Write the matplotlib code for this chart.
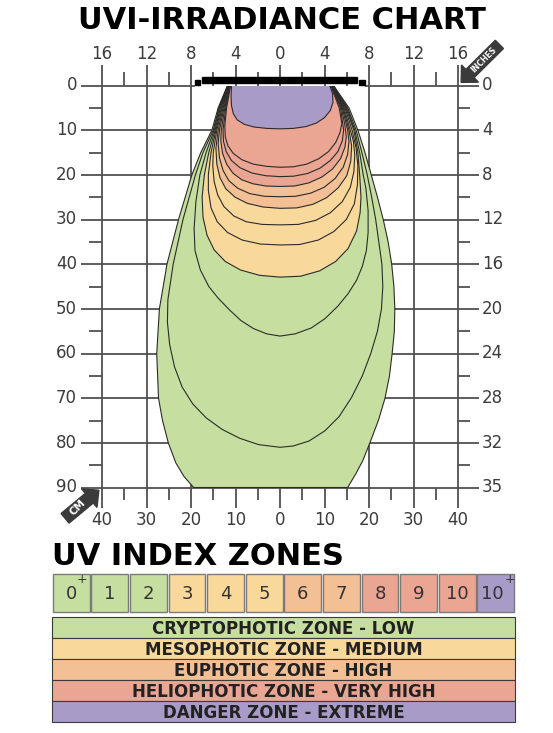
import matplotlib.pyplot as plt
from matplotlib.patches import Rectangle, FancyArrow

# ejes del grafico (cm abajo/izquierda, pulgadas arriba/derecha)
cm_x = [-40, -30, -20, -10, 0, 10, 20, 30, 40]
cm_x_labels = ['40', '30', '20', '10', '0', '10', '20', '30', '40']
in_top_labels = ['16', '12', '8', '4', '0', '4', '8', '12', '16']
cm_y = [0, 10, 20, 30, 40, 50, 60, 70, 80, 90]
cm_y_labels = ['0', '10', '20', '30', '40', '50', '60', '70', '80', '90']
in_right_labels = ['0', '4', '8', '12', '16', '20', '24', '28', '32', '35']
minor_x = [-35, -25, -15, -5, 5, 15, 25, 35]
minor_y = [5, 15, 25, 35, 45, 55, 65, 75, 85]

# contornos UVI (x cm, profundidad cm)
outline = [(-11.8, 0), (-13.9, 5), (-15.3, 10), (-17.8, 15), (-19.8, 20), (-22.8, 30), (-25.4, 40),
           (-27.1, 50), (-27.7, 60), (-27.3, 70), (-26.4, 75), (-25.1, 80), (-23.4, 84.5), (-21.6, 87.5),
           (-19.4, 90), (15.2, 90), (17.0, 87), (18.6, 84), (20.2, 80), (22.1, 75), (23.6, 70), (24.6, 65),
           (25.2, 60), (25.7, 55), (25.8, 50), (25.6, 45), (25.1, 40), (24.3, 35), (23.2, 30), (21.9, 25),
           (20.5, 20), (19.1, 15), (17.5, 10), (15.5, 5), (12.0, 0)]
line_1 = [(-11.75, 0), (-13.7, 5), (-15.0, 10), (-17.3, 15), (-19.0, 20), (-21.8, 30), (-24.0, 40),
          (-25.2, 48), (-25.3, 53), (-24.8, 58), (-23.7, 63), (-22.0, 67.5), (-19.6, 71.3), (-16.6, 74.4),
          (-13.0, 77.0), (-9.0, 79.0), (-4.8, 80.4), (0, 81), (3.0, 80.7), (6.5, 79.6), (10.1, 77.3),
          (13.3, 74.1), (16.1, 69.8), (18.5, 65.0), (20.4, 60), (21.9, 55), (22.8, 50), (23.1, 45),
          (22.9, 40), (21.5, 30), (20.6, 25), (19.6, 20), (18.4, 15), (17.1, 10), (15.2, 5), (12.0, 0)]
line_2 = [(-11.7, 0), (-13.6, 5), (-14.8, 10), (-16.6, 15), (-18.0, 20), (-18.9, 26), (-19.3, 32),
          (-19.1, 37), (-17.9, 41.3), (-16.0, 45), (-13.9, 47.6), (-11.4, 50.2), (-8.8, 52.6), (-6.0, 54.4),
          (-3.0, 55.6), (0, 56.1), (3.4, 55.6), (7.0, 54.3), (10.1, 52.2), (13.0, 49.4), (15.3, 46.6),
          (17.2, 43.6), (18.5, 40.5), (19.4, 37), (19.8, 33), (19.8, 28), (19.3, 23), (18.7, 20),
          (17.9, 15), (16.8, 10), (15.0, 5), (12.0, 0)]
line_3 = [(-11.65, 0), (-13.4, 5), (-14.6, 10), (-16.0, 15), (-17.0, 20), (-17.5, 25), (-17.3, 29.5),
          (-16.4, 33.5), (-14.8, 36.8), (-12.3, 39.4), (-8.9, 41.3), (-4.6, 42.5), (0, 42.9), (4.6, 42.7),
          (8.9, 41.5), (12.5, 39.4), (15.3, 36.5), (17.2, 32.6), (18.0, 28.5), (18.2, 25.0), (17.9, 20),
          (17.5, 15), (16.6, 10), (14.8, 5), (11.9, 0)]
line_4 = [(-11.6, 0), (-13.2, 5), (-14.4, 10), (-15.5, 15), (-16.1, 20), (-16.1, 23.5), (-15.5, 27.4),
          (-14.1, 30.5), (-11.8, 32.9), (-8.5, 34.6), (-4.4, 35.5), (0, 35.7), (4.4, 35.6), (8.6, 34.6),
          (12.1, 32.7), (14.9, 30.0), (16.7, 26.5), (17.4, 22.3), (17.5, 18.0), (17.1, 14), (16.2, 10),
          (14.6, 5), (11.9, 0)]
line_5 = [(-11.55, 0), (-13.0, 5), (-14.2, 10), (-15.0, 15), (-15.1, 18), (-14.8, 21.5), (-14.0, 24.5),
          (-12.6, 27.1), (-10.4, 29.2), (-7.6, 30.5), (-4.0, 31.1), (0, 31.2), (4.1, 31.1), (8.0, 30.2),
          (11.3, 28.5), (14.0, 26.0), (15.8, 22.8), (16.6, 19.3), (16.8, 15.5), (16.5, 12.5), (15.8, 10),
          (14.4, 5), (11.8, 0)]
line_6 = [(-11.5, 0), (-12.8, 5), (-13.9, 10), (-14.4, 14), (-14.2, 17.6), (-13.5, 20.6), (-12.2, 23.1),
          (-10.1, 25.0), (-7.3, 26.4), (-3.8, 27.2), (0, 27.5), (3.8, 27.4), (7.4, 26.6), (10.5, 25.1),
          (13.1, 22.9), (15.0, 20.2), (15.9, 17.0), (16.1, 13.5), (15.5, 10), (14.2, 5), (11.8, 0)]
line_7 = [(-11.4, 0), (-12.6, 5), (-13.6, 10), (-13.9, 13), (-13.6, 16.2), (-12.8, 19), (-11.5, 21.3),
          (-9.5, 23.0), (-6.8, 24.2), (-3.5, 24.8), (0, 24.9), (3.5, 24.8), (6.9, 24.1), (9.9, 22.8),
          (12.4, 20.8), (14.2, 18.3), (15.2, 15.4), (15.5, 12.5), (15.2, 10), (14.0, 5), (11.7, 0)]
line_8 = [(-11.3, 0), (-12.4, 5), (-13.2, 10), (-13.3, 12.5), (-12.9, 15.2), (-12.0, 17.6), (-10.6, 19.6),
          (-8.6, 21.1), (-6.1, 22.0), (-3.2, 22.5), (0, 22.6), (3.3, 22.5), (6.5, 21.8), (9.4, 20.5),
          (11.8, 18.7), (13.6, 16.4), (14.6, 13.8), (14.9, 11.5), (14.6, 9), (13.8, 5), (11.6, 0)]
line_9 = [(-11.2, 0), (-12.2, 5), (-12.8, 10), (-12.7, 12.5), (-12.1, 14.8), (-10.9, 16.8), (-9.0, 18.4),
          (-6.3, 19.6), (-3.2, 20.2), (0, 20.4), (3.1, 20.3), (6.2, 19.7), (9.0, 18.5), (11.3, 16.8),
          (13.0, 14.8), (14.0, 12.4), (14.3, 10), (13.6, 5), (11.5, 0)]
line_10 = [(-11.1, 0), (-12.0, 5), (-12.4, 9), (-12.3, 11.5), (-11.7, 13.5), (-10.5, 15.2), (-8.6, 16.6),
           (-6.0, 17.6), (-3.0, 18.1), (0, 18.3), (3.0, 18.2), (6.0, 17.6), (8.7, 16.4), (10.9, 14.8),
           (12.5, 12.8), (13.5, 10.5), (13.9, 8.5), (13.3, 5), (11.4, 0)]
line_10plus = [(-10.9, 0), (-11.0, 2.5), (-10.9, 4.5), (-10.5, 6.3), (-9.6, 7.7), (-8.0, 8.7), (-5.8, 9.3),
               (-3.0, 9.6), (0, 9.7), (3.0, 9.6), (5.8, 9.2), (8.2, 8.4), (10.0, 7.2), (11.3, 5.6),
               (11.9, 3.8), (11.8, 1.8), (11.2, 0)]

green = '#c6dfa0'
yellow = '#f8d99b'
orange = '#f3bf95'
red = '#eba593'
purple = '#a99bc7'

contours = [outline, line_1, line_2, line_3, line_4, line_5, line_6, line_7, line_8, line_9, line_10, line_10plus]
contour_colors = [green, green, green, yellow, yellow, yellow, orange, orange, red, red, red, purple]

# leyenda
uv_index = ['0', '1', '2', '3', '4', '5', '6', '7', '8', '9', '10', '10']
uv_plus = [True, False, False, False, False, False, False, False, False, False, False, True]
uv_colors = [green, green, green, yellow, yellow, yellow, orange, orange, red, red, red, purple]
zones = ['CRYPTOPHOTIC ZONE - LOW', 'MESOPHOTIC ZONE - MEDIUM', 'EUPHOTIC ZONE - HIGH',
         'HELIOPHOTIC ZONE - VERY HIGH', 'DANGER ZONE - EXTREME']
zone_colors = [green, yellow, orange, red, purple]

W, H = 553, 733
fig = plt.figure(figsize=(W / 100, H / 100), dpi=100)
fig.patch.set_facecolor('white')

# ---------------- grafico principal ----------------
ax = fig.add_axes([102 / W, (H - 487.5) / H, 356 / W, 402 / H])
ax.set_xlim(-40, 40)
ax.set_ylim(90, 0)
ax.axis('off')

grid_c = '#505050'
lw_g = 1.3
txt_c = '#3c3c3c'

# rejilla + marcas
for x in cm_x:
    ax.plot([x, x], [-4.6, 94.5], color=grid_c, lw=lw_g, clip_on=False, zorder=1, solid_capstyle='butt')
for y in cm_y[1:]:
    ax.plot([-44.8, 44.8], [y, y], color=grid_c, lw=lw_g, clip_on=False, zorder=1, solid_capstyle='butt')
ax.plot([-44.8, -19.1], [0, 0], color=grid_c, lw=lw_g, clip_on=False, zorder=1, solid_capstyle='butt')
ax.plot([19.1, 44.8], [0, 0], color=grid_c, lw=lw_g, clip_on=False, zorder=1, solid_capstyle='butt')
for y in minor_y:
    ax.plot([-43.0, -40], [y, y], color=grid_c, lw=lw_g, clip_on=False, zorder=1, solid_capstyle='butt')
    ax.plot([40, 42.7], [y, y], color=grid_c, lw=lw_g, clip_on=False, zorder=1, solid_capstyle='butt')
for x in minor_x:
    ax.plot([x, x], [0, -3.0], color=grid_c, lw=lw_g, clip_on=False, zorder=1, solid_capstyle='butt')
    ax.plot([x, x], [90, 92.8], color=grid_c, lw=lw_g, clip_on=False, zorder=1, solid_capstyle='butt')

# zonas de irradiancia
for pts, c in zip(contours, contour_colors):
    xs = [p[0] for p in pts]
    ys = [p[1] for p in pts]
    ax.fill(xs, ys, color=c, lw=0, zorder=2)
    ax.plot(xs, ys, color='#2b2b2b', lw=0.8, zorder=3, solid_joinstyle='round')

# lampara
ax.add_patch(Rectangle((-17.5, -1.95), 34.9, 1.5, color='black', zorder=5, clip_on=False))
ax.add_patch(Rectangle((-19.1, -1.2), 1.2, 1.2, color='black', zorder=5, clip_on=False))
ax.add_patch(Rectangle((17.8, -1.2), 1.2, 1.2, color='black', zorder=5, clip_on=False))

# etiquetas
for x, lab in zip(cm_x, cm_x_labels):
    ax.text(x, 97.2, lab, ha='center', va='center', fontsize=12, color=txt_c, clip_on=False)
for x, lab in zip(cm_x, in_top_labels):
    ax.text(x, -7.0, lab, ha='center', va='center', fontsize=12, color=txt_c, clip_on=False)
for y, lab in zip(cm_y, cm_y_labels):
    ax.text(-45.6, y, lab, ha='right', va='center', fontsize=12, color=txt_c, clip_on=False)
for y, lab in zip(cm_y, in_right_labels):
    ax.text(45.4, y, lab, ha='left', va='center', fontsize=12, color=txt_c, clip_on=False)

# flechas de unidades
badge = '#3b3b3b'
ax.add_patch(FancyArrow(49.3, -9.2, -8.6, 8.5, width=2.6, head_width=5.4, head_length=2.8,
                        length_includes_head=True, color=badge, clip_on=False, zorder=6))
ax.text(45.8, -5.7, 'INCHES', rotation=45, ha='center', va='center', fontsize=5.5,
        fontweight='bold', color='white', clip_on=False, zorder=7)
ax.add_patch(FancyArrow(-48.3, 96.9, 7.6, -6.3, width=2.8, head_width=5.4, head_length=2.8,
                        length_includes_head=True, color=badge, clip_on=False, zorder=6))
ax.text(-45.5, 94.5, 'CM', rotation=45, ha='center', va='center', fontsize=7.5,
        fontweight='bold', color='white', clip_on=False, zorder=7)

# titulos
fig.text(281.5 / W, 1 - 29 / H, 'UVI-IRRADIANCE CHART', ha='center', va='baseline',
         fontsize=22, fontweight='bold', color='black')
fig.text(52 / W, 1 - 565 / H, 'UV INDEX ZONES', ha='left', va='baseline',
         fontsize=22, fontweight='bold', color='black')

# ---------------- casillas de indice UV ----------------
axb = fig.add_axes([52 / W, (H - 611.5) / H, 463 / W, 38 / H])
axb.set_xlim(-0.5, 11.5)
axb.set_ylim(0, 1)
axb.axis('off')
bars = axb.bar(range(len(uv_index)), 1, width=0.955, color=uv_colors, edgecolor='#7a7a7a', lw=1)
for b in bars:
    b.set_clip_on(False)
for i, (lab, plus) in enumerate(zip(uv_index, uv_plus)):
    shift = -0.08 if len(lab) > 1 and plus else 0.0
    axb.text(i + shift, 0.47, lab, ha='center', va='center', fontsize=13, color='#333333')
    if plus:
        px = i + 0.38 if len(lab) > 1 else i + 0.28
        axb.text(px, 0.84, '+', ha='center', va='center', fontsize=9, color='#333333')

# ---------------- franjas de zonas ----------------
axz = fig.add_axes([52 / W, (H - 722) / H, 463 / W, 105 / H])
axz.set_xlim(0, 1)
axz.set_ylim(4.5, -0.5)
axz.axis('off')
zb = axz.barh(range(len(zones)), 1, height=1, left=0, color=zone_colors, edgecolor='#3a3a3a', lw=0.8)
for b in zb:
    b.set_clip_on(False)
for i, z in enumerate(zones):
    axz.text(0.5, i + 0.05, z, ha='center', va='center', fontsize=12, fontweight='bold', color='#222222')

fig.savefig('out.png', dpi=100, facecolor='white')
